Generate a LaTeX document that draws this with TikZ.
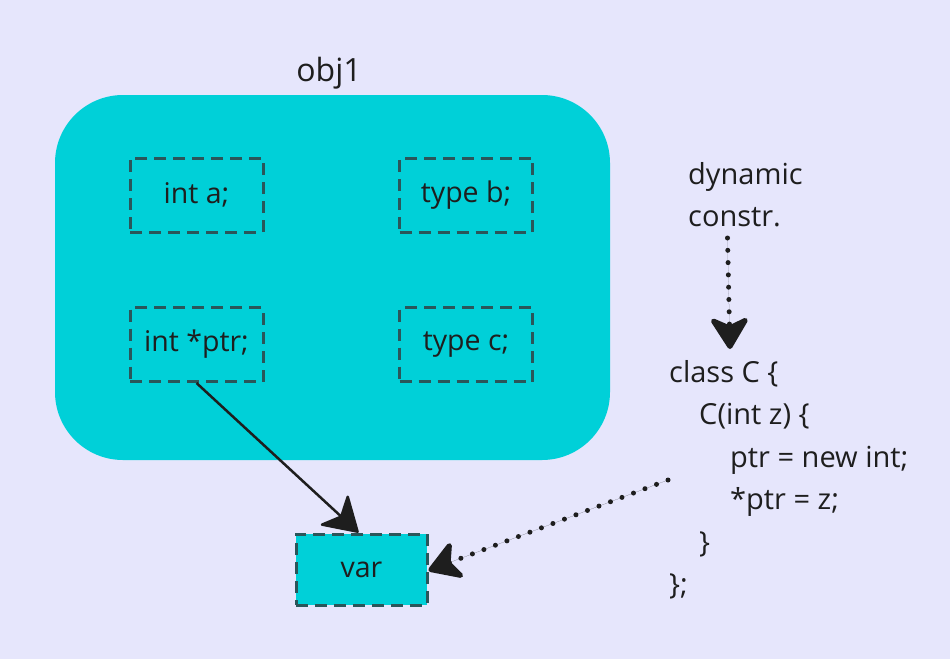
\documentclass[tikz,border=0pt]{standalone}
\usepackage{fontspec}
\setmainfont{Open Sans}
\usetikzlibrary{arrows.meta}
\definecolor{bg}{HTML}{E6E6FC}
\definecolor{teal}{HTML}{00D0D8}
\definecolor{dashc}{HTML}{2A565A}
\definecolor{ink}{HTML}{1E1E1E}
\tikzset{
  field/.style={draw=dashc, line width=3pt, dash pattern=on 12pt off 7pt, minimum width=133pt, minimum height=74pt, inner sep=0pt, font=\fontsize{28.5}{34}\selectfont, text=ink},
  codeline/.style={anchor=base west, inner sep=0pt, font=\fontsize{29}{35}\selectfont, text=ink},
  bigtip/.style={-{Stealth[length=36pt,width=44pt,inset=10pt,round]}},
  solidarrow/.style={bigtip, draw=ink, fill=ink, line width=2.5pt},
  dotarrow/.style={bigtip, draw=ink, fill=ink, line width=5pt, dash pattern=on 0pt off 12.3pt, line cap=round},
}
\begin{document}
\begin{tikzpicture}[x=1pt,y=-1pt]
\fill[bg] (0,0) rectangle (950,659);
\useasboundingbox (0,0) rectangle (950,659);
\node[fill=teal, rounded corners=68pt, minimum width=555pt, minimum height=365pt, inner sep=0pt] (obj) at (332.5,277.5) {};
\node[font=\fontsize{32}{38}\selectfont, text=ink, inner sep=0pt] (title) at (329,73) {obj1};
\node[field] (a) at (196.5,195) {int a;};
\node[field] (b) at (466,195) {type b;};
\node[field] (ptr) at (196.5,344.5) {int *ptr;};
\node[field] (c) at (466,344.5) {type c;};
\node[field, fill=teal, minimum width=131pt, minimum height=71pt] (var) at (361.5,569.5) {var};
\node[codeline] (d1) at (688,184) {dynamic};
\node[codeline] (d2) at (688,226) {constr.};
\node[codeline] (l1) at (669,382) {class C \{};
\node[codeline] (l2) at (699,424.5) {C(int z) \{};
\node[codeline] (l3) at (730,467) {ptr = new int;};
\node[codeline] (l4) at (730,509.5) {*ptr = z;};
\node[codeline] (l5) at (699,552) {\}};
\node[codeline] (l6) at (669,594.5) {\};};
\coordinate (dynout) at (727.5,238);
\coordinate (clsin) at (730,349);
\coordinate (codeout) at (668,480);
\draw[solidarrow] (ptr.south) -- ([xshift=-3pt]var.north);
\draw[dotarrow] (dynout) -- (clsin);
\draw[dotarrow] (codeout) -- ([yshift=-1pt]var.east);
\end{tikzpicture}
\end{document}
